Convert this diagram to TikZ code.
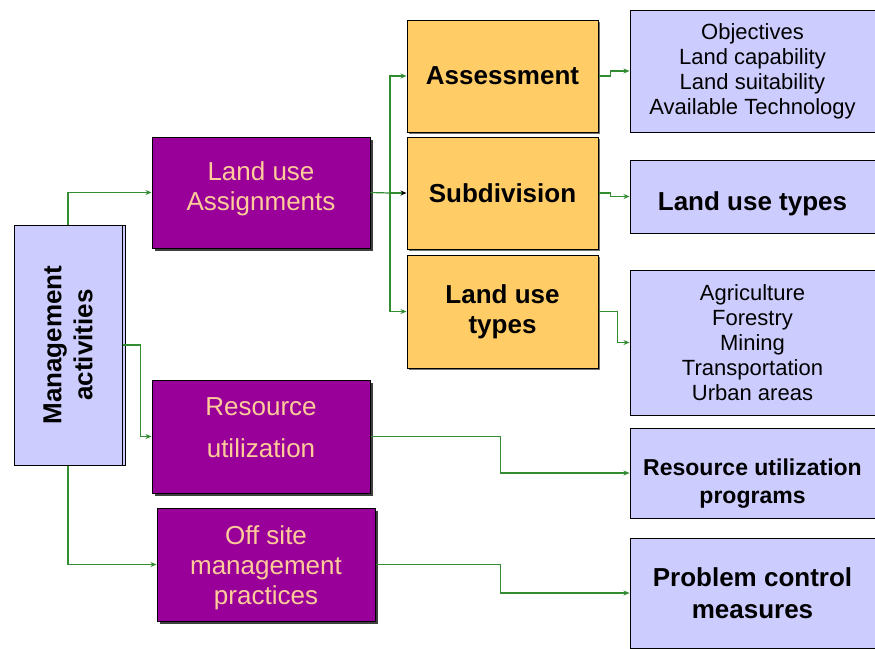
\documentclass[tikz,border=0pt]{standalone}
\usepackage{fontspec}
\setmainfont{Liberation Sans}
\usetikzlibrary{arrows.meta,shadows}

\definecolor{plum}{RGB}{153,0,153}
\definecolor{peach}{RGB}{255,204,153}
\definecolor{sand}{RGB}{255,204,102}
\definecolor{lilac}{RGB}{204,204,255}
\definecolor{linkgreen}{RGB}{50,140,50}

\tikzset{
  mgmtbox/.style={draw,fill=lilac,line width=1pt,
    copy shadow={shadow xshift=3pt,shadow yshift=0pt}},
  actbox/.style={draw,fill=plum,text=peach,line width=1pt,align=center,
    font=\fontsize{26}{30}\selectfont,
    drop shadow={shadow xshift=3pt,shadow yshift=-3pt,fill=black!75,opacity=1}},
  stagebox/.style={draw,fill=sand,line width=1pt,align=center,
    font=\fontsize{26}{30}\selectfont\bfseries,
    drop shadow={shadow xshift=2pt,shadow yshift=-2pt,fill=black!55,opacity=1}},
  outbox/.style={draw,fill=lilac,line width=1pt,align=center},
  link/.style={draw=linkgreen,line width=1.2pt,
    -{Stealth[length=6pt,width=5pt,color=linkgreen]}}
}

\begin{document}
\begin{tikzpicture}[x=1pt,y=-1pt]
\useasboundingbox (0,0) rectangle (875,648);

% left column
\node (mgmt) at (68,345) [mgmtbox,minimum width=108pt,minimum height=240pt] {};
\node (mgmttxt) at (mgmt.center) [rotate=90,align=center,
   font=\fontsize{26}{31}\selectfont\bfseries] {Management\\activities};

% activities
\node (assign) at (261,192.5) [actbox,minimum width=218pt,minimum height=111pt]
   {Land use\\Assignments\\[-18pt]\mbox{}};
\node (res) at (261,436.5) [actbox,minimum width=218pt,minimum height=113pt]
   {Resource\\[12pt]utilization\\[-12pt]\mbox{}};
\node (off) at (266,564.5) [actbox,minimum width=218pt,minimum height=113pt]
   {\mbox{}\\[-5pt]Off site\\management\\practices};

% land use stages
\node (assess) at (502.5,76) [stagebox,minimum width=191pt,minimum height=112pt]
   {Assessment};
\node (subdiv) at (502.5,193) [stagebox,minimum width=191pt,minimum height=112pt]
   {Subdivision};
\node (lut) at (502.5,311.5) [stagebox,minimum width=191pt,minimum height=113pt]
   {Land use\\types};

% outcomes
\node (obj) at (752.5,71) [outbox,minimum width=245pt,minimum height=122pt,
   font=\fontsize{22}{25}\selectfont]
   {Objectives\\Land capability\\Land suitability\\Available Technology};
\node (lutb) at (752.5,196.5) [outbox,minimum width=245pt,minimum height=73pt,
   font=\fontsize{26}{30}\selectfont\bfseries] {\mbox{}\\[3pt]Land use types};
\node (rup) at (752.5,473) [outbox,minimum width=245pt,minimum height=90pt,
   font=\fontsize{23}{28}\selectfont\bfseries]
   {\mbox{}\\[9pt]Resource utilization\\programs};
\node (agri) at (752.5,342.5) [outbox,minimum width=245pt,minimum height=145pt,
   font=\fontsize{22}{25}\selectfont]
   {Agriculture\\Forestry\\Mining\\Transportation\\Urban areas};
\node (pcm) at (752.5,593) [outbox,minimum width=245pt,minimum height=110pt,
   font=\fontsize{26}{32}\selectfont\bfseries]
   {Problem control\\measures};

% connectors
\draw[link] (mgmt.north) |- (assign.west);
\draw[link] (mgmt.east) -- ++(18,0) |- (res.west);
\draw[link] (mgmt.south) |- (off.west);

\coordinate (split) at (390,193);
\draw[linkgreen,line width=1.2pt] (assign.east) -- (split);
\draw[link,-{Stealth[length=6pt,width=5pt,color=black]}] (split) -- (subdiv.west);
\draw[link] (split) |- (assess.west);
\draw[link] (split) |- (lut.west);

\draw[link] (assess.east) -- ++(12,0) |- (obj.west);
\draw[link] (subdiv.east) -- ++(12,0) |- (lutb.west);
\draw[link] (lut.east) -- ++(19,0) |- (agri.west);
\draw[link] (res.east) -- ++(130,0) |- (rup.west);
\draw[link] (off.east) -- ++(125,0) |- (pcm.west);
\end{tikzpicture}
\end{document}
